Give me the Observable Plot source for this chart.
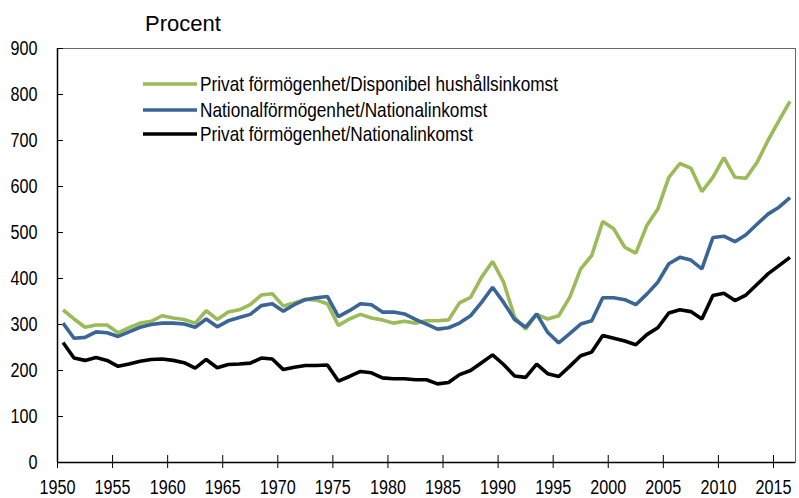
<!DOCTYPE html>
<html>
<head>
<meta charset="utf-8">
<script src="https://cdn.jsdelivr.net/npm/d3@7"></script>
<script src="https://cdn.jsdelivr.net/npm/@observablehq/plot@0.6"></script>
<style>
  html, body { margin: 0; padding: 0; background: #fff; }
  #chart { position: relative; width: 799px; height: 498px; }
</style>
</head>
<body>
<div id="chart"></div>
<script>
const years = d3.range(1950, 2017);
const privDisp = [332,312,294,299,299,282,293,303,307,319,
                  314,311,303,330,311,327,332,343,364,367,
                  340,347,355,353,345,298,312,322,314,310,
                  303,307,303,308,308,310,347,359,403,437,
                  392,316,290,322,312,319,359,421,450,524,
                  508,468,455,515,551,620,650,640,589,620,
                  663,620,618,652,700,743,785];
const natl =     [303,270,272,284,282,274,284,294,300,303,
                  303,301,294,312,295,308,315,322,341,345,
                  329,343,354,358,361,317,330,345,343,327,
                  327,323,311,301,290,293,303,319,348,381,
                  348,311,294,323,283,260,280,301,308,358,
                  358,354,343,366,392,432,446,440,421,489,
                  492,480,495,518,540,555,576];
const privNat =  [261,227,222,228,222,209,214,220,224,225,
                  222,217,205,224,206,213,214,216,227,225,
                  202,207,211,211,212,177,187,198,195,184,
                  182,182,180,180,171,174,191,200,217,234,
                  213,188,185,214,193,187,209,232,240,276,
                  270,264,256,278,293,325,332,328,312,363,
                  368,352,364,387,410,428,446];
const seriesNames = ["Privat förmögenhet/Disponibel hushållsinkomst",
                     "Nationalförmögenhet/Nationalinkomst",
                     "Privat förmögenhet/Nationalinkomst"];
const seriesColors = ["#9bbb59", "#3a6597", "#000000"];
const seriesValues = [privDisp, natl, privNat];
const xTicks = d3.range(1950, 2016, 5);
const yTicks = d3.range(0, 901, 100);
const title = "Procent";

const rows = [];
seriesNames.forEach((name, s) => {
  years.forEach((yr, i) => rows.push({series: name, year: yr, value: seriesValues[s][i]}));
});

const font = '"Liberation Sans", Arial, sans-serif';

const plot = Plot.plot({
  width: 799,
  height: 498,
  marginLeft: 57,
  marginRight: 4,
  marginTop: 48,
  marginBottom: 36,
  style: {fontFamily: font, fontSize: "20px", background: "#fff", color: "#000"},
  x: {domain: [1950, 2017]},
  y: {domain: [0, 900]},
  color: {domain: seriesNames, range: seriesColors},
  marks: [
    Plot.frame({stroke: "#666", strokeWidth: 1}),
    Plot.axisY({ticks: yTicks, tickSize: 0, tickPadding: 20, label: null, fontSize: 20}),
    Plot.axisX({ticks: xTicks, tickSize: 0, tickPadding: 17, label: null, tickFormat: d => String(d), fontSize: 20}),
    Plot.ruleY(yTicks, {y: d => d, x1: 1950, x2: 1950, insetRight: -6, stroke: "#000", strokeWidth: 1}),
    Plot.ruleX(xTicks, {x: d => d, y1: 0, y2: 0, insetTop: -7, insetBottom: -6, stroke: "#000", strokeWidth: 1}),
    Plot.line(rows, {x: d => d.year + 0.5, y: "value", z: "series", stroke: "series", strokeWidth: 3.6, strokeLinejoin: "miter", strokeLinecap: "butt"}),
    Plot.ruleX([1950], {stroke: "#000", strokeWidth: 1.5}),
    Plot.ruleY([0], {stroke: "#000", strokeWidth: 1.5})
  ]
});

const svg = d3.select(plot);
svg.append("text")
  .attr("class", "title")
  .attr("x", 145).attr("y", 31)
  .attr("text-anchor", "start")
  .attr("font-family", font)
  .attr("font-size", 22)
  .attr("fill", "#000")
  .text(title);

const legendY = [84, 110, 134];
seriesNames.forEach((name, i) => {
  svg.append("line")
    .attr("x1", 143).attr("x2", 197)
    .attr("y1", legendY[i]).attr("y2", legendY[i])
    .attr("stroke", seriesColors[i]).attr("stroke-width", 3.5);
  svg.append("text")
    .attr("class", "legend")
    .attr("x", 200).attr("y", legendY[i])
    .attr("dy", "0.35em")
    .attr("text-anchor", "start")
    .attr("font-family", font)
    .attr("font-size", 21)
    .attr("fill", "#000")
    .text(name);
});

document.getElementById("chart").appendChild(plot);

// condensed look: compress all non-title texts horizontally
svg.selectAll("text").each(function() {
  const cls = this.getAttribute("class");
  if (cls === "title") return;
  const k = cls === "legend" ? 0.82 : 0.81;
  const len = this.getComputedTextLength();
  if (len > 0) {
    this.setAttribute("textLength", (len * k).toFixed(1));
    this.setAttribute("lengthAdjust", "spacingAndGlyphs");
  }
});
</script>
</body>
</html>
